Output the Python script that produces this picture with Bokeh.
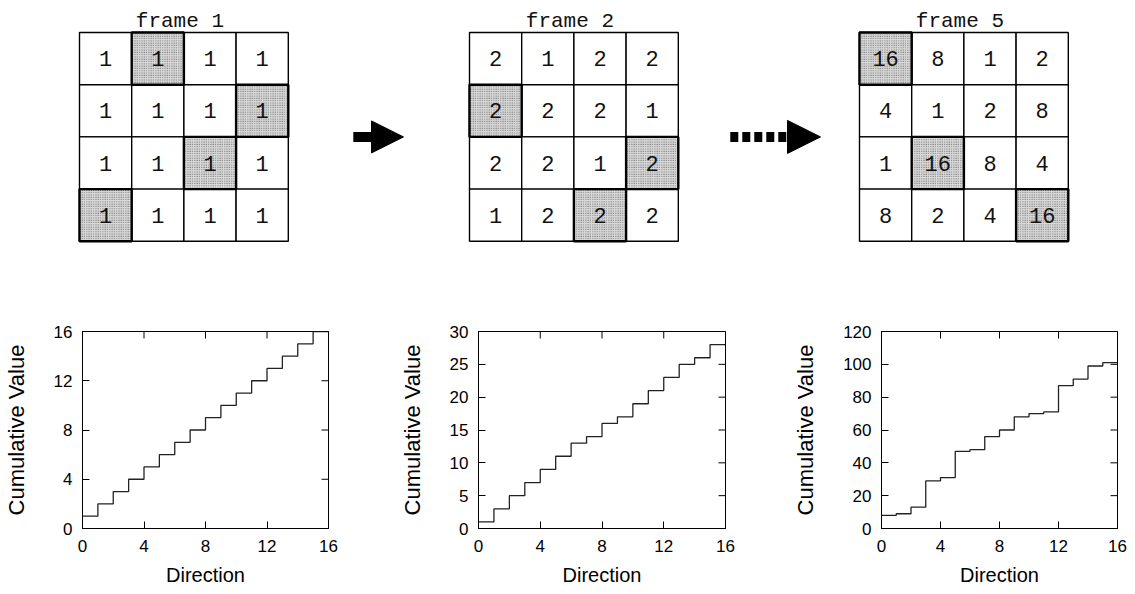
import math
from bokeh.plotting import figure
from bokeh.layouts import column, row
from bokeh.models import Range1d, FixedTicker, Arrow, NormalHead
from bokeh.core.properties import value
from bokeh.embed import file_html
from bokeh.resources import INLINE

# ---------------- data ----------------
frame_titles = ["frame 1", "frame 2", "frame 5"]
frame1_values = [[1, 1, 1, 1], [1, 1, 1, 1], [1, 1, 1, 1], [1, 1, 1, 1]]
frame2_values = [[2, 1, 2, 2], [2, 2, 2, 1], [2, 2, 1, 2], [1, 2, 2, 2]]
frame5_values = [[16, 8, 1, 2], [4, 1, 2, 8], [1, 16, 8, 4], [8, 2, 4, 16]]
frame1_shaded = [(0, 1), (1, 3), (2, 2), (3, 0)]
frame2_shaded = [(1, 0), (2, 3), (3, 2)]
frame5_shaded = [(0, 0), (2, 1), (3, 3)]

directions = list(range(16))
cumulative_frame1 = [1, 2, 3, 4, 5, 6, 7, 8, 9, 10, 11, 12, 13, 14, 15, 16]
cumulative_frame2 = [1, 3, 5, 7, 9, 11, 13, 14, 16, 17, 19, 21, 23, 25, 26, 28]
cumulative_frame5 = [8, 9, 13, 29, 31, 47, 48, 56, 60, 68, 70, 71, 87, 91, 99, 101]
x_ticks = [0, 4, 8, 12, 16]
y_ticks_1 = [0, 4, 8, 12, 16]
y_ticks_2 = [0, 5, 10, 15, 20, 25, 30]
y_ticks_3 = [0, 20, 40, 60, 80, 100, 120]
x_label = "Direction"
y_label = "Cumulative Value"

# ---------------- top diagrams ----------------
W, TOP_H = 1135, 300
top = figure(frame_width=W, frame_height=TOP_H, x_range=Range1d(0, W), y_range=Range1d(TOP_H, 0),
             output_backend="svg", toolbar_location=None, min_border=0,
             x_axis_location=None, y_axis_location=None)
top.outline_line_color = None
top.xgrid.visible = False
top.ygrid.visible = False

CELL = 52.2
GRID_Y0 = 32
grid_x0 = [79, 469, 859]
mono = value("Liberation Mono")

for gx, title, vals, shaded in zip(grid_x0, frame_titles,
                                   [frame1_values, frame2_values, frame5_values],
                                   [frame1_shaded, frame2_shaded, frame5_shaded]):
    xs, ys, ts = [], [], []
    for r in range(4):
        for c in range(4):
            xs.append(gx + (c + 0.5) * CELL)
            ys.append(GRID_Y0 + (r + 0.5) * CELL)
            ts.append(str(vals[r][c]))
    top.rect(x=xs, y=ys, width=CELL, height=CELL, fill_color="white",
             line_color="black", line_width=1.4)
    sx = [gx + (c + 0.5) * CELL for r, c in shaded]
    sy = [GRID_Y0 + (r + 0.5) * CELL for r, c in shaded]
    top.rect(x=sx, y=sy, width=CELL, height=CELL, fill_color="#dadada",
             hatch_pattern="dot", hatch_color="#5e5e5e", hatch_scale=2.3, hatch_weight=1.1,
             line_color="black", line_width=2.4)
    top.text(x=xs, y=ys, text=ts, text_font=mono, text_font_size="22px",
             text_align="center", text_baseline="middle", text_color="#111111")
    top.text(x=[gx + 2 * CELL - 4], y=[GRID_Y0 - 11], text=[title], text_font=mono,
             text_font_size="21px", text_align="center", text_baseline="alphabetic",
             text_color="#111111")

mid_y = GRID_Y0 + 2 * CELL
g1_right = grid_x0[0] + 4 * CELL
g2_right = grid_x0[1] + 4 * CELL
top.add_layout(Arrow(end=NormalHead(size=32, fill_color="black", line_color="black"),
                     x_start=g1_right + 65, y_start=mid_y, x_end=grid_x0[1] - 66, y_end=mid_y,
                     line_width=10, line_color="black"))
top.add_layout(Arrow(end=NormalHead(size=33, fill_color="black", line_color="black"),
                     x_start=g2_right + 52, y_start=mid_y, x_end=grid_x0[2] - 39, y_end=mid_y,
                     line_width=10, line_color="black", line_dash="8 4"))

# ---------------- step plots ----------------
sans = "Liberation Sans"


def make_step(vals, yticks, left_b, frame_w, right_b):
    p = figure(frame_width=frame_w, frame_height=197, min_border_left=left_b,
               min_border_right=right_b, min_border_top=31, min_border_bottom=66,
               x_range=Range1d(0, 16), y_range=Range1d(0, yticks[-1]),
               output_backend="svg", toolbar_location=None)
    p.xgrid.visible = False
    p.ygrid.visible = False
    p.outline_line_color = "black"
    p.outline_line_width = 1
    xs = directions + [16]
    ys = vals + [vals[-1]]
    p.step(xs, ys, mode="after", line_color="#222222", line_width=1.3)
    for ax, ticks in ((p.xaxis[0], x_ticks), (p.yaxis[0], yticks)):
        ax.ticker = FixedTicker(ticks=ticks)
        ax.major_tick_in = 7
        ax.major_tick_out = 0
        ax.minor_tick_line_color = None
        ax.major_label_text_font = sans
        ax.major_label_text_font_size = "17px"
        ax.major_label_text_color = "black"
        ax.axis_label_text_font = sans
        ax.axis_label_text_font_style = "normal"
        ax.axis_label_text_color = "black"
        ax.axis_line_color = "black"
        ax.major_tick_line_color = "black"
    p.xaxis[0].axis_label = x_label
    p.yaxis[0].axis_label = y_label
    p.xaxis[0].axis_label_text_font_size = "20px"
    p.yaxis[0].axis_label_text_font_size = "22px"
    p.xaxis[0].major_label_standoff = 11
    p.xaxis[0].axis_label_standoff = 9
    p.yaxis[0].major_label_standoff = 10
    p.yaxis[0].axis_label_standoff = 22
    # mirrored ticks on the right and top edges (clipped to the frame -> inward ticks)
    p.scatter(x=[16] * len(yticks), y=yticks, marker="dash", size=14,
              line_color="black", line_width=1)
    p.scatter(x=x_ticks, y=[yticks[-1]] * len(x_ticks), marker="dash", size=14,
              angle=math.pi / 2, line_color="black", line_width=1)
    return p


p1 = make_step(cumulative_frame1, y_ticks_1, 82, 246, 68)
p2 = make_step(cumulative_frame2, y_ticks_2, 82, 247, 65)
p3 = make_step(cumulative_frame5, y_ticks_3, 89, 236, 20)

layout = column(top, row(p1, p2, p3))
open("out.html", "w").write(file_html(layout, INLINE))
